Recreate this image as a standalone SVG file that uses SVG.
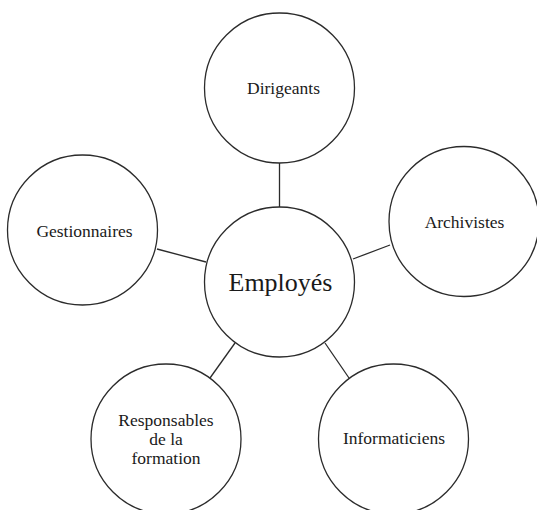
<svg xmlns="http://www.w3.org/2000/svg" width="537" height="510" viewBox="0 0 537 510">
  <style>
    .node { fill: #ffffff; stroke: #2b2b2b; stroke-width: 1.3; }
    .edge { stroke: #2b2b2b; stroke-width: 1.3; fill: none; }
    .label { font-size: 17.5px; fill: #1a1a1a; text-anchor: middle; }
    .hub { font-size: 26px; }
  </style>
  <rect width="537" height="510" fill="#ffffff"/>

  <!-- spokes from the central circle -->
  <g id="connectors">
    <line class="edge" x1="279.5" y1="163" x2="279.5" y2="207"/>
    <line class="edge" x1="157" y1="249" x2="206" y2="262"/>
    <line class="edge" x1="353" y1="259" x2="390" y2="245"/>
    <line class="edge" x1="235" y1="343" x2="210" y2="378"/>
    <line class="edge" x1="325" y1="343" x2="349" y2="378"/>
  </g>

  <g font-family="'Liberation Serif', 'Times New Roman', 'DejaVu Serif', serif">
    <g id="employes">
      <circle class="node" cx="279.5" cy="282" r="75"/>
      <text class="label hub" x="280.5" y="291">Employés</text>
    </g>

    <g id="dirigeants">
      <circle class="node" cx="279.5" cy="88" r="75"/>
      <text class="label" x="283.5" y="94">Dirigeants</text>
    </g>

    <g id="gestionnaires">
      <circle class="node" cx="82.5" cy="230" r="75"/>
      <text class="label" x="84.5" y="237">Gestionnaires</text>
    </g>

    <g id="archivistes">
      <circle class="node" cx="464" cy="221.5" r="75"/>
      <text class="label" x="464.5" y="228">Archivistes</text>
    </g>

    <g id="responsables">
      <circle class="node" cx="166" cy="439" r="75"/>
      <text class="label" x="166" y="425.5">Responsables</text>
      <text class="label" x="166" y="444.5">de la</text>
      <text class="label" x="166" y="463.5">formation</text>
    </g>

    <g id="informaticiens">
      <circle class="node" cx="393.5" cy="439" r="75"/>
      <text class="label" x="394" y="444">Informaticiens</text>
    </g>
  </g>
</svg>
